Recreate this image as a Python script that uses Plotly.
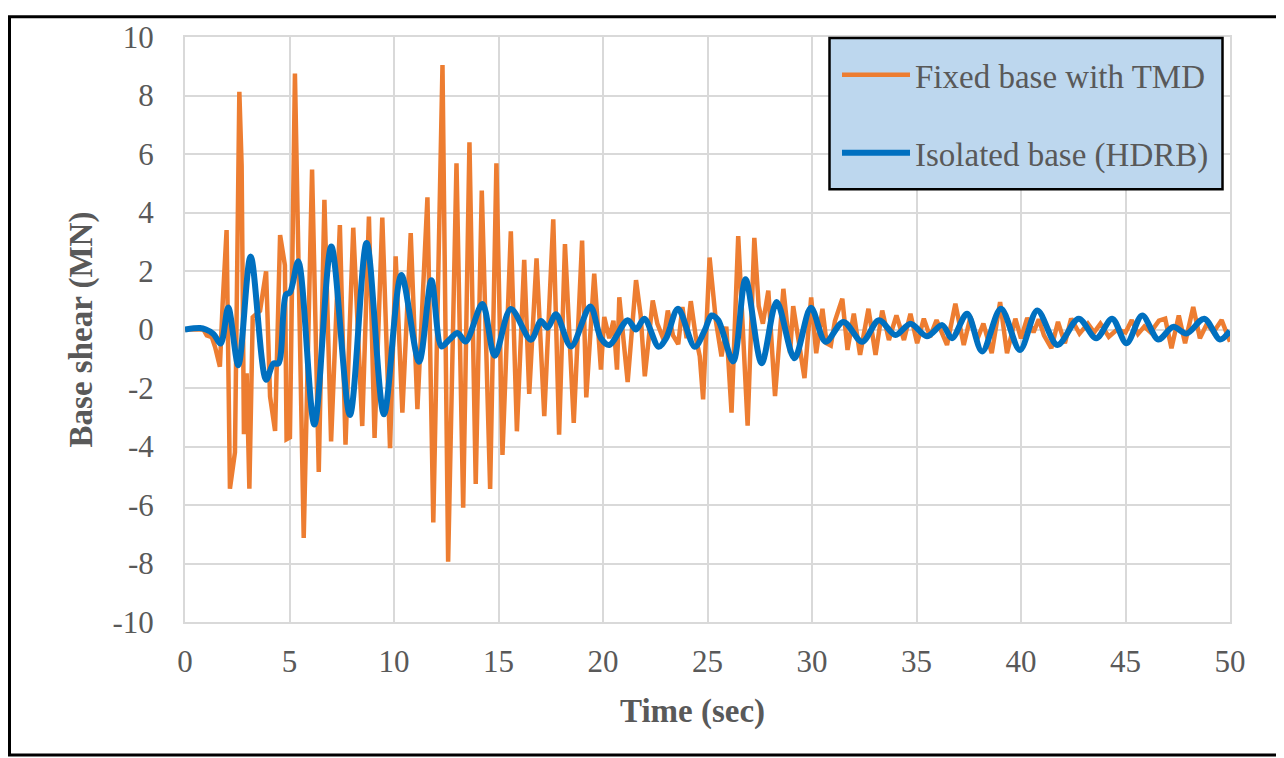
import plotly.graph_objects as go

# Fixed base with TMD - base shear (MN) vs time (sec)
fixed_t = [0, 0.5, 0.88, 1.04, 1.28, 1.44, 1.67, 1.8, 1.99, 2.15, 2.39, 2.6, 2.71, 2.82, 2.95, 3.08,
           3.24, 3.59, 3.88, 4.07, 4.31, 4.55, 4.78, 4.86, 5.02, 5.26, 5.68, 6.08, 6.4, 6.67, 6.99,
           7.41, 7.68, 8.05, 8.48, 8.8, 9.07, 9.44, 9.81, 10.08, 10.4, 10.8, 11.12, 11.6, 11.88,
           12.32, 12.59, 12.99, 13.31, 13.61, 13.91, 14.2, 14.6, 14.9, 15.19, 15.59, 15.88, 16.23,
           16.47, 16.82, 17.19, 17.62, 17.9, 18.18, 18.6, 19.0, 19.2, 19.58, 19.9, 20.06, 20.3,
           20.5, 20.67, 20.78, 20.95, 21.18, 21.58, 21.8, 22.0, 22.38, 22.6, 22.9, 23.1, 23.35,
           23.6, 23.8, 24.0, 24.2, 24.45, 24.63, 24.79, 25.1, 25.4, 25.67, 25.9, 26.15, 26.47,
           26.63, 26.92, 27.24, 27.45, 27.65, 27.91, 28.23, 28.63, 28.95, 29.1, 29.64, 29.96,
           30.2, 30.5, 30.7, 30.9, 31.1, 31.45, 31.7, 32.0, 32.3, 32.7, 33.04, 33.36, 33.68,
           34.04, 34.4, 34.71, 35.03, 35.35, 35.65, 35.96, 36.46, 36.86, 37.26, 37.58, 37.9,
           38.2, 38.6, 39.0, 39.33, 39.73, 40.0, 40.3, 40.6, 40.85, 41.1, 41.45, 41.77, 42.1,
           42.4, 42.8, 43.2, 43.5, 43.8, 44.2, 44.6, 45.0, 45.3, 45.6, 45.9, 46.2, 46.6, 46.9,
           47.2, 47.55, 47.85, 48.24, 48.56, 48.9, 49.2, 49.6, 50.0]
fixed_v = [0, 0, 0, -0.2, -0.26, -0.6, -1.27, 0.87, 3.4, -5.44, -4.2, 8.13, 5.6, -3.58, -1.5, -5.44,
           0.42, 0.64, 1.99, -2.29, -3.47, 3.23, 2.2, -3.75, -3.69, 8.75, -7.13, 5.47, -4.87, 4.43,
           -3.83, 3.57, -3.94, 3.48, -3.3, 3.86, -3.71, 3.83, -4.06, 2.5, -2.84, 3.3, -2.72, 4.52,
           -6.6, 9.04, -7.94, 5.68, -6.09, 6.4, -5.28, 4.75, -5.45, 5.68, -4.29, 3.36, -3.48, 2.38,
           -2.2, 2.43, -2.96, 3.77, -3.6, 2.92, -3.19, 3.04, -2.32, 1.91, -1.37, 0.43, -0.3,
           0.3, -1.37, 1.1, -0.2, -1.8, 1.69, 0.5, -1.6, 0.99, 0.2, -0.35, 0.65, -0.2,
           -0.5, 0.77, -0.3, 0.97, -0.3, -0.92, -2.39, 2.46, 0.3, -0.92, 0.1, -2.84, 3.19,
           0.8, -3.29, 3.13, 0.8, 0.2, 1.33, -2.28, 1.39, -0.8, 0.8, -1.66, 1.1,
           -0.81, 0.71, -0.47, -0.55, 0.3, 1.05, -0.7, 0.54, -0.87, 0.71, -0.87, 0.65, -0.36,
           0.48, -0.36, 0.54, -0.47, 0.37, -0.25, 0.32, -0.53, 0.88, -0.53, 0.43, -0.35,
           0.2, -0.81, 0.94, -0.81, 0.37, -0.3, 0.4, -0.1, 0.35, -0.2, -0.64, 0.26, -0.47,
           0.37, -0.14, 0.2, -0.1, 0.2, -0.25, 0.0, -0.1, 0.32, -0.15, 0.1, -0.1, 0.3, 0.37,
           -0.64, 0.48, -0.47, 0.77, -0.3, 0.2, -0.1, 0.32, -0.42]

# Isolated base (HDRB)
iso_t = [0, 0.72, 1.0, 1.36, 1.71, 2.07, 2.55, 3.14, 3.88, 4.23, 4.47, 4.83, 5.02, 5.42, 6.19, 7.0,
         7.89, 8.69, 9.52, 10.35, 11.2, 11.79, 12.27, 12.64, 13.04, 13.43, 14.23, 14.82, 15.59,
         16.55, 17.03, 17.35, 17.75, 18.47, 19.39, 19.9, 20.3, 21.18, 21.58, 21.98, 22.66, 23.02,
         23.59, 24.39, 24.87, 25.19, 25.51, 26.23, 26.82, 27.59, 28.31, 29.16, 29.95, 30.65,
         31.5, 32.4, 33.2, 34.0, 34.71, 35.5, 36.23, 36.7, 37.42, 38.14, 39.04, 39.95, 40.78,
         41.74, 42.76, 43.6, 44.36, 45.05, 45.8, 46.57, 47.28, 47.92, 48.77, 49.52, 50.0]
iso_v = [0, 0.05, 0.0, -0.15, -0.48, 0.75, -1.22, 2.5, -1.72, -1.16, -1.16, 1.2, 1.26, 2.33, -3.25, 2.84,
         -2.92, 2.96, -2.9, 1.86, -1.1, 1.68, -0.58, -0.35, -0.12, -0.41, 0.87, -0.9, 0.7,
         -0.35, 0.29, 0.06, 0.52, -0.58, 0.79, -0.3, -0.53, 0.32, 0.0, 0.37, -0.59, -0.3,
         0.71, -0.59, -0.02, 0.48, 0.32, -1.09, 1.72, -1.15, 0.94, -0.98, 0.74, -0.42,
         0.26, -0.42, 0.32, -0.19, 0.2, -0.23, 0.15, -0.3, 0.54, -0.75, 0.71, -0.7, 0.65,
         -0.53, 0.37, -0.3, 0.37, -0.47, 0.48, -0.34, 0.09, -0.14, 0.37, -0.34, -0.05]

x_ticks = [0, 5, 10, 15, 20, 25, 30, 35, 40, 45, 50]
y_ticks = [-10, -8, -6, -4, -2, 0, 2, 4, 6, 8, 10]
y_labels = [str(v) for v in y_ticks]

# the page body adds an 8px margin, so the figure is built 8px smaller and
# all helper positions below are given in screen pixels
OFF = 8
W, H = 1284 - OFF, 758 - OFF
L, R, T, B = 185 - OFF, 54, 30 - OFF, 136
pw, ph = W - L - R, H - T - B

def px_x(p):
    return (p - OFF - L) / pw

def px_y(p):
    return 1 - (p - OFF - T) / ph

serif = "Liberation Serif, Times New Roman, serif"
grey = "#595959"

fig = go.Figure()
fig.add_trace(go.Scatter(x=fixed_t, y=fixed_v, mode="lines", name="Fixed base with TMD",
                         legendgroup="a", line=dict(color="#ed7d31", width=4.5)))
fig.add_trace(go.Scatter(x=iso_t, y=iso_v, mode="lines", name="Isolated base (HDRB)",
                         legendgroup="b", line=dict(color="#0070c0", width=6, shape="spline",
                                                    smoothing=0.9)))

fig.update_layout(
    width=W, height=H,
    margin=dict(l=L, r=R, t=T, b=B),
    paper_bgcolor="white", plot_bgcolor="white",
    font=dict(family=serif, size=31, color=grey),
    showlegend=True,
    legend=dict(x=px_x(837), y=px_y(40), xanchor="left", yanchor="top",
                bgcolor="rgba(0,0,0,0)", borderwidth=0, font=dict(size=33, color=grey),
                itemwidth=68, tracegroupgap=32, traceorder="grouped"),
    shapes=[
        dict(type="rect", xref="paper", yref="paper", layer="above",
             x0=px_x(829.5), x1=px_x(1222.5), y0=px_y(184), y1=px_y(31),
             fillcolor="#bdd7ee", line=dict(color="black", width=2.5)),
        dict(type="rect", xref="paper", yref="paper", layer="above",
             x0=px_x(OFF + 1.5), x1=px_x(1284 - 1.5), y0=px_y(758 - 1.5), y1=px_y(OFF + 1.5),
             line=dict(color="black", width=3)),
    ],
    annotations=[
        dict(text="<b>Time (sec)</b>", xref="paper", yref="paper", x=px_x(692), y=px_y(713),
             xanchor="center", yanchor="middle", showarrow=False, font=dict(size=33, color=grey)),
    ],
)

fig.update_xaxes(range=[0, 50], tickvals=x_ticks, showgrid=True, gridcolor="#d9d9d9", gridwidth=2,
                 zeroline=False, showline=True, linecolor="#d9d9d9", linewidth=2, mirror=True,
                 ticks="outside", ticklen=11, tickcolor="rgba(0,0,0,0)")
fig.update_yaxes(range=[-10, 10], tickvals=y_ticks, ticktext=y_labels, showgrid=True,
                 gridcolor="#d9d9d9", gridwidth=2,
                 zeroline=False, showline=True, linecolor="#d9d9d9", linewidth=2, mirror=True,
                 ticks="outside", ticklen=23, tickcolor="rgba(0,0,0,0)",
                 title=dict(text="<b>Base shear (MN)</b>", font=dict(size=33, color=grey), standoff=10))

fig.write_html("out.html")
